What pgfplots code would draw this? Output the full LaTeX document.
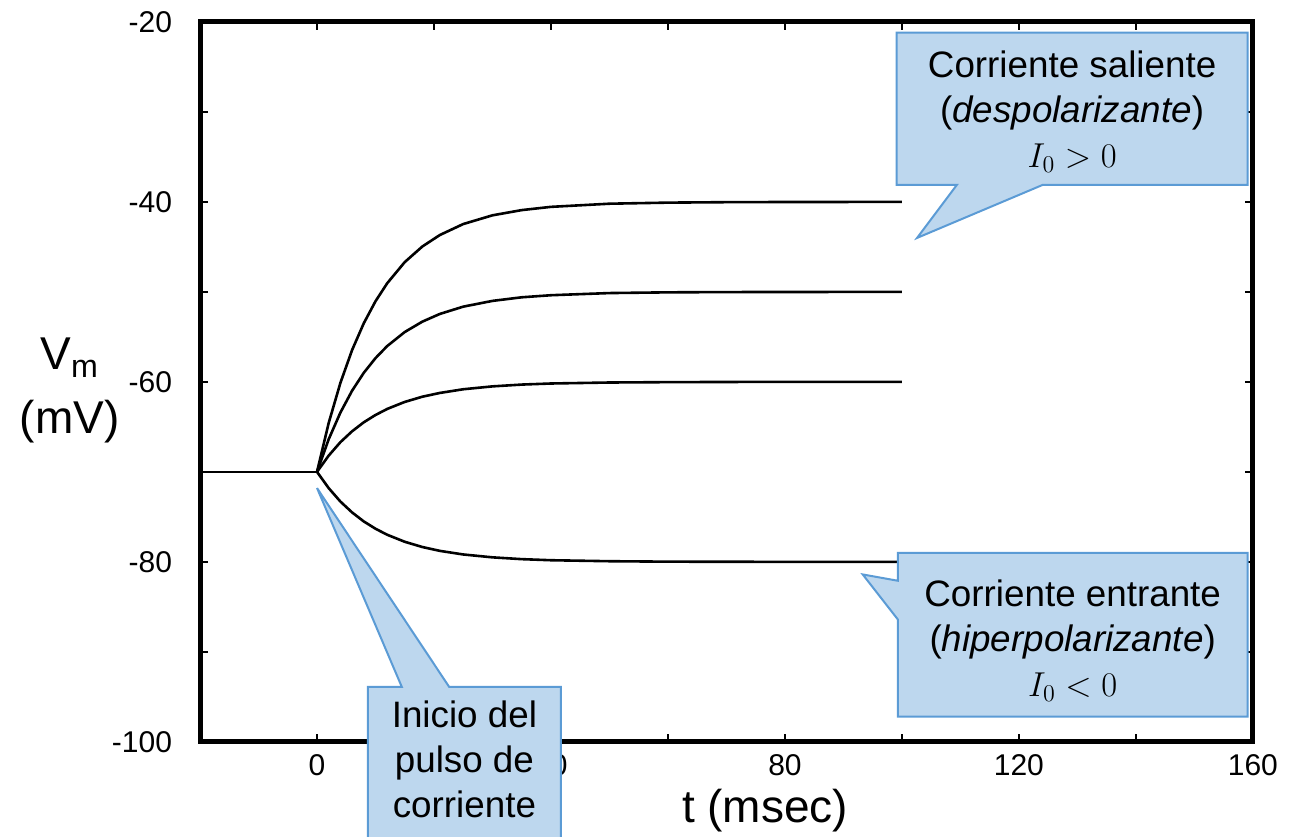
\documentclass[border=0pt]{standalone}
\usepackage{pgfplots}
\pgfplotsset{compat=1.18}
\usepackage{fontspec}
\setmainfont{Liberation Sans}
\definecolor{cfill}{HTML}{BDD7EE}
\definecolor{cborder}{HTML}{5B9BD5}
\newcommand{\tlfont}{\fontsize{15}{18}\selectfont}
\begin{document}
\begin{tikzpicture}
\begin{axis}[
  name=ax, scale only axis, width=526.5pt, height=360pt,
  xmin=-20, xmax=160, ymin=-100, ymax=-20,
  xtick={0,40,80,120,160}, minor xtick={20,60,100,140},
  ytick={-100,-80,-60,-40,-20}, minor ytick={-90,-70,-50,-30},
  tick pos=both, ticklabel pos=left,
  tick align=inside, major tick length=4pt, minor tick length=4pt,
  every tick/.style={line width=1.3pt, black},
  every minor tick/.style={line width=1.3pt, black},
  axis line style={line width=2.5pt, line join=miter},
  /pgf/number format/assume math mode=true,
  xticklabel={\tlfont\pgfmathprintnumber{\tick}},
  yticklabel={\tlfont\pgfmathprintnumber{\tick}},
  yticklabel style={xshift=-10.5pt},
  xticklabel style={yshift=-3pt},
  clip=false,
]
\addplot[black, line width=1.3pt] coordinates {(-20,-70) (0,-70)};
\addplot[black, line width=1.3pt] table {
t v
0 -70
2 -64.56
4 -60.11
6 -56.46
8 -53.48
10 -51.04
12 -49.04
15 -46.69
18 -44.96
21 -43.68
25 -42.46
30 -41.49
35 -40.91
40 -40.55
50 -40.20
60 -40.08
70 -40.03
80 -40.01
100 -40.00
};
\addplot[black, line width=1.3pt] table {
t v
0 -70
2 -66.37
4 -63.41
6 -60.98
8 -58.99
10 -57.36
12 -56.02
15 -54.46
18 -53.31
21 -52.45
25 -51.64
30 -51.00
35 -50.60
40 -50.37
50 -50.13
60 -50.05
70 -50.02
80 -50.01
100 -50.00
};
\addplot[black, line width=1.3pt] table {
t v
0 -70
2 -68.19
4 -66.70
6 -65.49
8 -64.49
10 -63.68
12 -63.01
15 -62.23
18 -61.65
21 -61.23
25 -60.82
30 -60.50
35 -60.30
40 -60.18
50 -60.07
60 -60.03
70 -60.01
80 -60.00
100 -60.00
};
\addplot[black, line width=1.3pt] table {
t v
0 -70
2 -71.81
4 -73.30
6 -74.51
8 -75.51
10 -76.32
12 -76.99
15 -77.77
18 -78.35
21 -78.78
25 -79.18
30 -79.50
35 -79.70
40 -79.82
50 -79.93
60 -79.98
70 -79.99
80 -80.00
100 -80.00
};
% labels
\node[font=\fontsize{23}{27}\selectfont, align=center, anchor=east, inner sep=0pt] at (axis cs:-33.7,-61.0) {V\textsubscript{m}\\[5pt](mV)};
\node[font=\fontsize{23}{27}\selectfont] at (axis cs:76.6,-107.6) {t (msec)};
% callout coordinates
\coordinate (U1) at (axis cs:99.1,-21.2);
\coordinate (U2) at (axis cs:159.1,-21.2);
\coordinate (U3) at (axis cs:159.1,-38.1);
\coordinate (U4) at (axis cs:124.1,-38.1);
\coordinate (U5) at (axis cs:102.6,-44.0);
\coordinate (U6) at (axis cs:109.4,-38.1);
\coordinate (U7) at (axis cs:99.1,-38.1);
\coordinate (UT) at (axis cs:129.1,-30.0);
\coordinate (L1) at (axis cs:99.3,-79.0);
\coordinate (L2) at (axis cs:159.1,-79.0);
\coordinate (L3) at (axis cs:159.1,-97.2);
\coordinate (L4) at (axis cs:99.3,-97.2);
\coordinate (L5) at (axis cs:99.3,-86.4);
\coordinate (L6) at (axis cs:93.3,-81.4);
\coordinate (L7) at (axis cs:99.3,-82.1);
\coordinate (LT) at (axis cs:129.2,-88.8);
\coordinate (B1) at (axis cs:8.7,-93.9);
\coordinate (B2) at (axis cs:14.5,-93.9);
\coordinate (B3) at (axis cs:0,-71.8);
\coordinate (B4) at (axis cs:22.6,-93.9);
\coordinate (B5) at (axis cs:41.7,-93.9);
\coordinate (B6) at (axis cs:41.7,-116);
\coordinate (B7) at (axis cs:8.7,-116);
\coordinate (BT) at (axis cs:25.2,-101.9);
\coordinate (BBL) at (axis cs:-54.2,-110.56);
\coordinate (BTR) at (axis cs:169.6,-17.56);
\end{axis}
\begin{scope}[every node/.style={font=\fontsize{18.4}{22.5}\selectfont, align=center}]
\filldraw[fill=cfill, draw=cborder, line width=1pt, line join=miter]
  (U1) -- (U2) -- (U3) -- (U4) -- (U5) -- (U6) -- (U7) -- cycle;
\node at (UT) {Corriente saliente\\(\textit{despolarizante})\\$I_0>0$};
\filldraw[fill=cfill, draw=cborder, line width=1pt, line join=miter]
  (L1) -- (L2) -- (L3) -- (L4) -- (L5) -- (L6) -- (L7) -- cycle;
\node at (LT) {Corriente entrante\\(\textit{hiperpolarizante})\\$I_0<0$};
\filldraw[fill=cfill, draw=cborder, line width=1pt, line join=miter]
  (B1) -- (B2) -- (B3) -- (B4) -- (B5) -- (B6) -- (B7) -- cycle;
\node at (BT) {Inicio del\\pulso de\\corriente};
\end{scope}
\pgfresetboundingbox
\path[use as bounding box] (BBL) rectangle (BTR);
\end{tikzpicture}
\end{document}
